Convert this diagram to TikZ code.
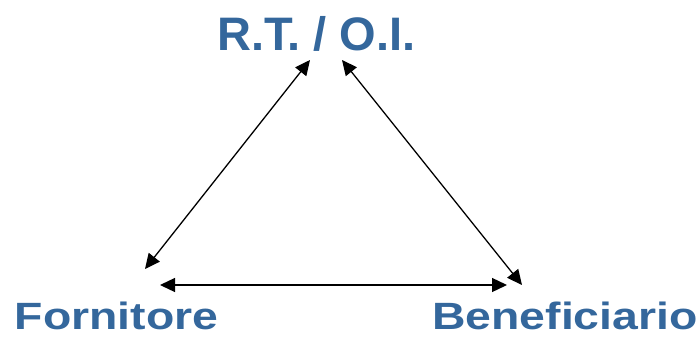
\documentclass[tikz,border=0pt]{standalone}
\usepackage{fontspec}
\setmainfont{Liberation Sans}
\usetikzlibrary{arrows.meta}
\definecolor{lbl}{HTML}{34679C}
\begin{document}
\begin{tikzpicture}[x=1pt,y=-1pt,
  lab/.style={text=lbl,font=\bfseries,inner sep=0pt,anchor=base},
  link/.style={line width=1.3pt,{Triangle[length=15pt,width=14pt]}-{Triangle[length=15pt,width=14pt]}}]
\useasboundingbox (0,0) rectangle (699,338);
\node[lab] (rt) at (316.5,50) {\fontsize{47}{47}\selectfont R.T. / O.I.};
\node[lab] (fo) at (116.5,329) {\scalebox{1.22}[1]{\fontsize{38}{38}\selectfont Fornitore}};
\node[lab] (be) at (565,329) {\scalebox{1.22}[1]{\fontsize{38}{38}\selectfont Beneficiario}};
\coordinate (a1) at (310,60);
\coordinate (a2) at (145,269);
\coordinate (b1) at (342,60);
\coordinate (b2) at (522,285);
\coordinate (c1) at (160,285);
\coordinate (c2) at (507,285);
\draw[link] (a1) -- (a2);
\draw[link] (b1) -- (b2);
\draw[link] (c1) -- (c2);
\end{tikzpicture}
\end{document}
